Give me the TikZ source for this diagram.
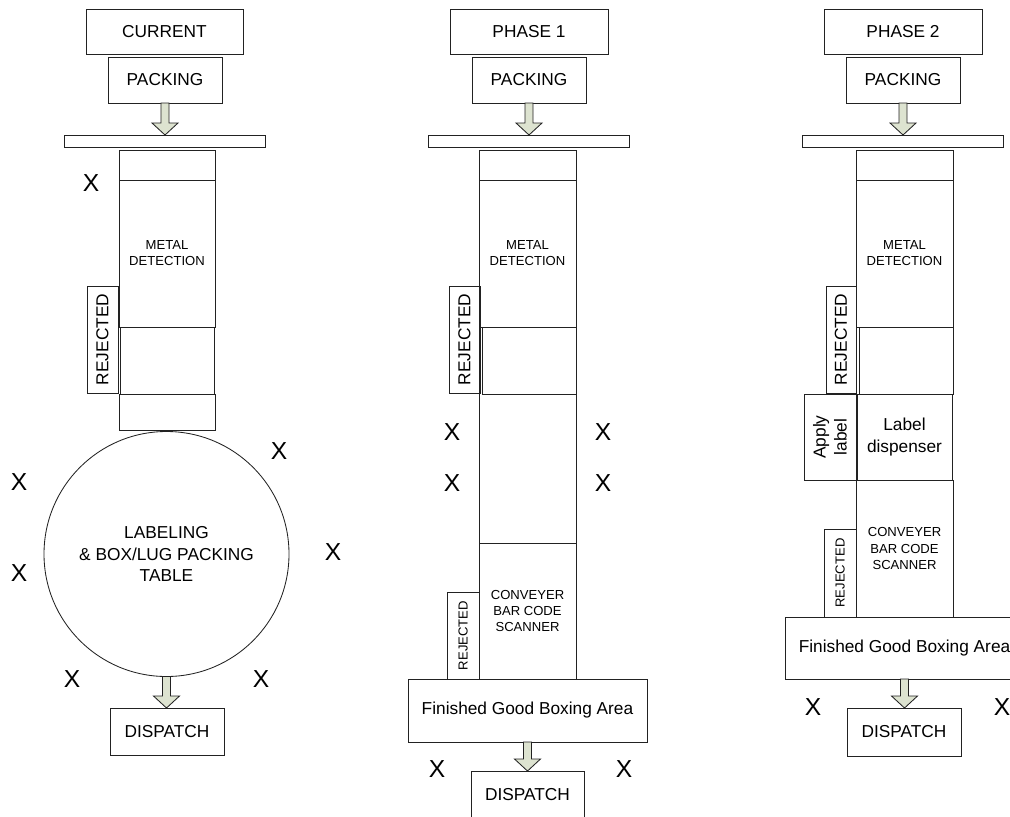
\documentclass[tikz,border=0pt]{standalone}
\usepackage{fontspec}
\setmainfont{Liberation Sans}
\usetikzlibrary{calc}
\definecolor{arrowfill}{HTML}{DDE3D0}
\definecolor{edge}{HTML}{222222}
\tikzset{
  sz/.style 2 args={minimum width=#1*0.025cm, minimum height=#2*0.025cm},
  box/.style={draw=edge, line width=0.6pt, inner sep=0pt, outer sep=0pt, align=center,
    font=\fontsize{12.3}{15}\selectfont},
  smallbox/.style={box, font=\fontsize{9.3}{11.4}\selectfont},
  xmark/.style={inner sep=0pt, font=\fontsize{17.5}{20}\selectfont},
  flowarr/.style={draw=edge, fill=arrowfill, line width=0.6pt, line join=miter}
}
\newcommand{\flowarrow}[2]{%
  \draw[flowarr] let \p1=(#1.south), \p2=(#2.north) in
    (\x1-2.85pt,\y1) -- (\x1-2.85pt,\y2+8.5pt) -- (\x1-9.2pt,\y2+8.5pt) -- (\x1,\y2)
    -- (\x1+9.2pt,\y2+8.5pt) -- (\x1+2.85pt,\y2+8.5pt) -- (\x1+2.85pt,\y1) -- cycle;}
\begin{document}
\begin{tikzpicture}[x=0.025cm, y=-0.025cm]
            \useasboundingbox (0,0) rectangle (1010,816);
            \clip (0,0) rectangle (1010,816);

            % current
            \node[box, sz={157}{45}] (cur) at (164.5,31.5) {CURRENT};
            \node[box, sz={114}{46}] (pack1) at (165,80) {PACKING};
            \node[box, sz={201}{12}] (bar1) at (164.5,141) {};
            \node[box, sz={96}{30}] (top1) at (167,165) {};
            \node[smallbox, sz={96}{147}] (metal1) at (167,253.5) {METAL\\DETECTION};
            \node[box, sz={96}{36}] (low1) at (167,412) {};
            \node[box, sz={94}{67}] (inner1) at (167,360.5) {};
            \node[box, rotate=90, sz={107}{31}] (rej1) at (102.5,339.5) {REJECTED};
            \node[box, circle, minimum size=245*0.025cm] (table1) at (166.5,554)
                {LABELING\\\& BOX/LUG PACKING\\TABLE};
            \node[box, sz={114}{47}] (disp1) at (167,731.5) {DISPATCH};
            \flowarrow{pack1}{bar1}
            \flowarrow{table1}{disp1}

            \node[xmark] (xa1) at (91,183) {X};
            \node[xmark] (xa2) at (19,482) {X};
            \node[xmark] (xa3) at (279,451) {X};
            \node[xmark] (xa4) at (19,573) {X};
            \node[xmark] (xa5) at (333,552) {X};
            \node[xmark] (xa6) at (72,679) {X};
            \node[xmark] (xa7) at (261,679) {X};

            % phase 1
            \node[box, sz={158}{45}] (ph1) at (529,31.5) {PHASE 1};
            \node[box, sz={114}{46}] (pack2) at (529,80) {PACKING};
            \node[box, sz={201}{12}] (bar2) at (528.5,141) {};
            \node[box, sz={97}{30}] (top2) at (527.5,165) {};
            \node[smallbox, sz={97}{147}] (metal2) at (527.5,253.5) {METAL\\DETECTION};
            \node[box, sz={97}{216}] (mid2) at (527.5,435) {};
            \node[box, sz={94}{67}] (inner2) at (529,360.5) {};
            \node[smallbox, sz={97}{136}] (scan2) at (527.5,611) {CONVEYER\\BAR CODE\\SCANNER};
            \node[box, rotate=90, sz={107}{31}] (rej2) at (464.5,339.5) {REJECTED};
            \node[smallbox, rotate=90, sz={87}{32}] (rejb2) at (463,635.5) {REJECTED};
            \node[box, sz={239}{63}] (fin2) at (527.5,710.5) {Finished Good Boxing Area};
            \node[box, sz={113}{47}] (disp2) at (527.5,794.5) {DISPATCH};
            \flowarrow{pack2}{bar2}
            \flowarrow{fin2}{disp2}

            \node[xmark] (xb1) at (452,432) {X};
            \node[xmark] (xb2) at (603,432) {X};
            \node[xmark] (xb3) at (452,483) {X};
            \node[xmark] (xb4) at (603,483) {X};
            \node[xmark] (xb5) at (437,769) {X};
            \node[xmark] (xb6) at (624,769) {X};

            % phase 2
            \node[box, sz={158}{45}] (ph2) at (903,31.5) {PHASE 2};
            \node[box, sz={114}{46}] (pack3) at (903,80) {PACKING};
            \node[box, sz={201}{12}] (bar3) at (902.5,141) {};
            \node[box, sz={97}{30}] (top3) at (904.5,165) {};
            \node[smallbox, sz={97}{147}] (metal3) at (904.5,253.5) {METAL\\DETECTION};
            \node[box, sz={94}{67}] (inner3) at (906,360.5) {};
            \node[box, rotate=90, sz={107}{30}] (rej3) at (841,339.5) {REJECTED};
            \node[box, sz={95}{86}] (lab3) at (904.5,437) {Label\\dispenser};
            \node[box, rotate=90, sz={86}{52}] (apply3) at (830,437) {Apply\\label};
            \node[smallbox, sz={97}{137}] (scan3) at (904.5,548.5) {CONVEYER\\BAR CODE\\SCANNER};
            \node[smallbox, rotate=90, sz={88}{32}] (rejb3) at (840,573) {REJECTED};
            \node[box, sz={239}{62}] (fin3) at (904.5,648) {Finished Good Boxing Area};
            \node[box, sz={114}{48}] (disp3) at (904,732) {DISPATCH};
            \flowarrow{pack3}{bar3}
            \flowarrow{fin3}{disp3}

            \node[xmark] (xc1) at (813,707) {X};
            \node[xmark] (xc2) at (1002,707) {X};
\end{tikzpicture}
\end{document}
